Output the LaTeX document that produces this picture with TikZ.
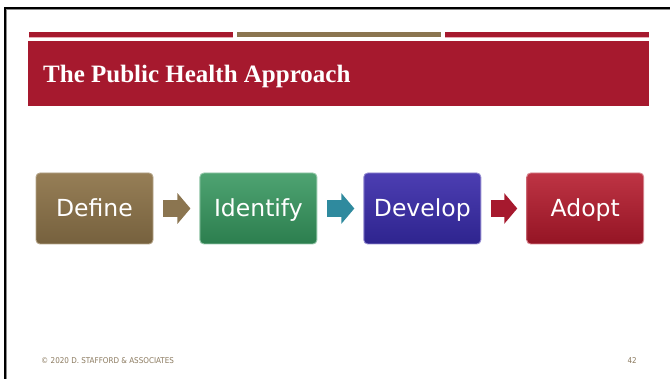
\documentclass[tikz,border=0pt]{standalone}
\usepackage{fontspec}
\setmainfont{Liberation Serif}
\newfontfamily\boxfont{DejaVu Sans}
\newfontfamily\footfont{DejaVu Sans Condensed}
\usetikzlibrary{arrows.meta, positioning}
\definecolor{PHRed}{RGB}{166, 25, 46}
\definecolor{PHPink}{RGB}{232, 170, 180}
\definecolor{PHGold}{RGB}{139, 117, 80}
\definecolor{PHFoot}{RGB}{140, 123, 96}
\definecolor{DefTop}{RGB}{150, 126, 86}
\definecolor{DefBot}{RGB}{118, 97, 62}
\definecolor{IdeTop}{RGB}{78, 163, 114}
\definecolor{IdeBot}{RGB}{44, 126, 78}
\definecolor{DevTop}{RGB}{76, 62, 178}
\definecolor{DevBot}{RGB}{46, 36, 142}
\definecolor{AdoTop}{RGB}{190, 52, 68}
\definecolor{AdoBot}{RGB}{148, 20, 36}
\definecolor{ArrTeal}{RGB}{47, 138, 158}

\tikzset{
  stepbox/.style={rounded corners=4pt, minimum width=117pt, minimum height=71pt,
    inner sep=0pt, text=white, font=\boxfont\fontsize{23.5}{26}\selectfont,
    text height=17pt, text depth=0pt, line width=0.9pt},
  flowarrow/.style={line width=17pt, -{Triangle[length=13pt, width=30pt]}}
}

\begin{document}
\begin{tikzpicture}[x=1pt,y=-1pt]
  \path[use as bounding box] (0,0) rectangle (670,379);
  \fill[white] (0,0) rectangle (670,379);

  % slide frame
  \draw[black!45, line width=0.8pt] (6.8,379) -- (6.8,9.8) -- (670,9.8);
  \draw[black, line width=2.2pt] (5,379) -- (5,8) -- (670,8);

  % header stripes
  \fill[PHPink] (29,36.6) rectangle (233,38);
  \fill[PHRed] (29,32) rectangle (233,36.8);
  \fill[PHGold] (237,32) rectangle (441,36.8);
  \fill[PHPink] (445,36.6) rectangle (649,38);
  \fill[PHRed] (445,32) rectangle (649,36.8);

  % title band
  \fill[PHRed] (28,41) rectangle (649,106);
  \node[anchor=base west, inner sep=0pt, text=white,
        font=\bfseries\fontsize{25}{28}\selectfont] (title) at (43,83) {The Public Health Approach};

  % steps
  \node[stepbox, top color=DefTop, bottom color=DefBot, draw=DefTop!70!white] (define) at (94.5,208.5) {Define};
  \node[stepbox, top color=IdeTop, bottom color=IdeBot, draw=IdeTop!60!white, right=46pt of define] (identify) {Identify};
  \node[stepbox, top color=DevTop, bottom color=DevBot, draw=DevTop!60!white, right=46pt of identify] (develop) {Develop};
  \node[stepbox, top color=AdoTop, bottom color=AdoBot, draw=AdoTop!60!white, right=45pt of develop] (adopt) {Adopt};

  \draw[flowarrow, PHGold] ([xshift=10pt]define.east) -- ([xshift=-9pt]identify.west);
  \draw[flowarrow, ArrTeal] ([xshift=10pt]identify.east) -- ([xshift=-9pt]develop.west);
  \draw[flowarrow, PHRed] ([xshift=10pt]develop.east) -- ([xshift=-9pt]adopt.west);

  % footer
  \node[anchor=base west, inner sep=0pt, text=PHFoot, font=\footfont\fontsize{8}{10}\selectfont]
    (copy) at (41,364) {© 2020 D. STAFFORD \& ASSOCIATES};
  \node[anchor=base east, inner sep=0pt, text=PHFoot, font=\footfont\fontsize{8}{10}\selectfont]
    (page) at (637,364) {42};
\end{tikzpicture}
\end{document}
